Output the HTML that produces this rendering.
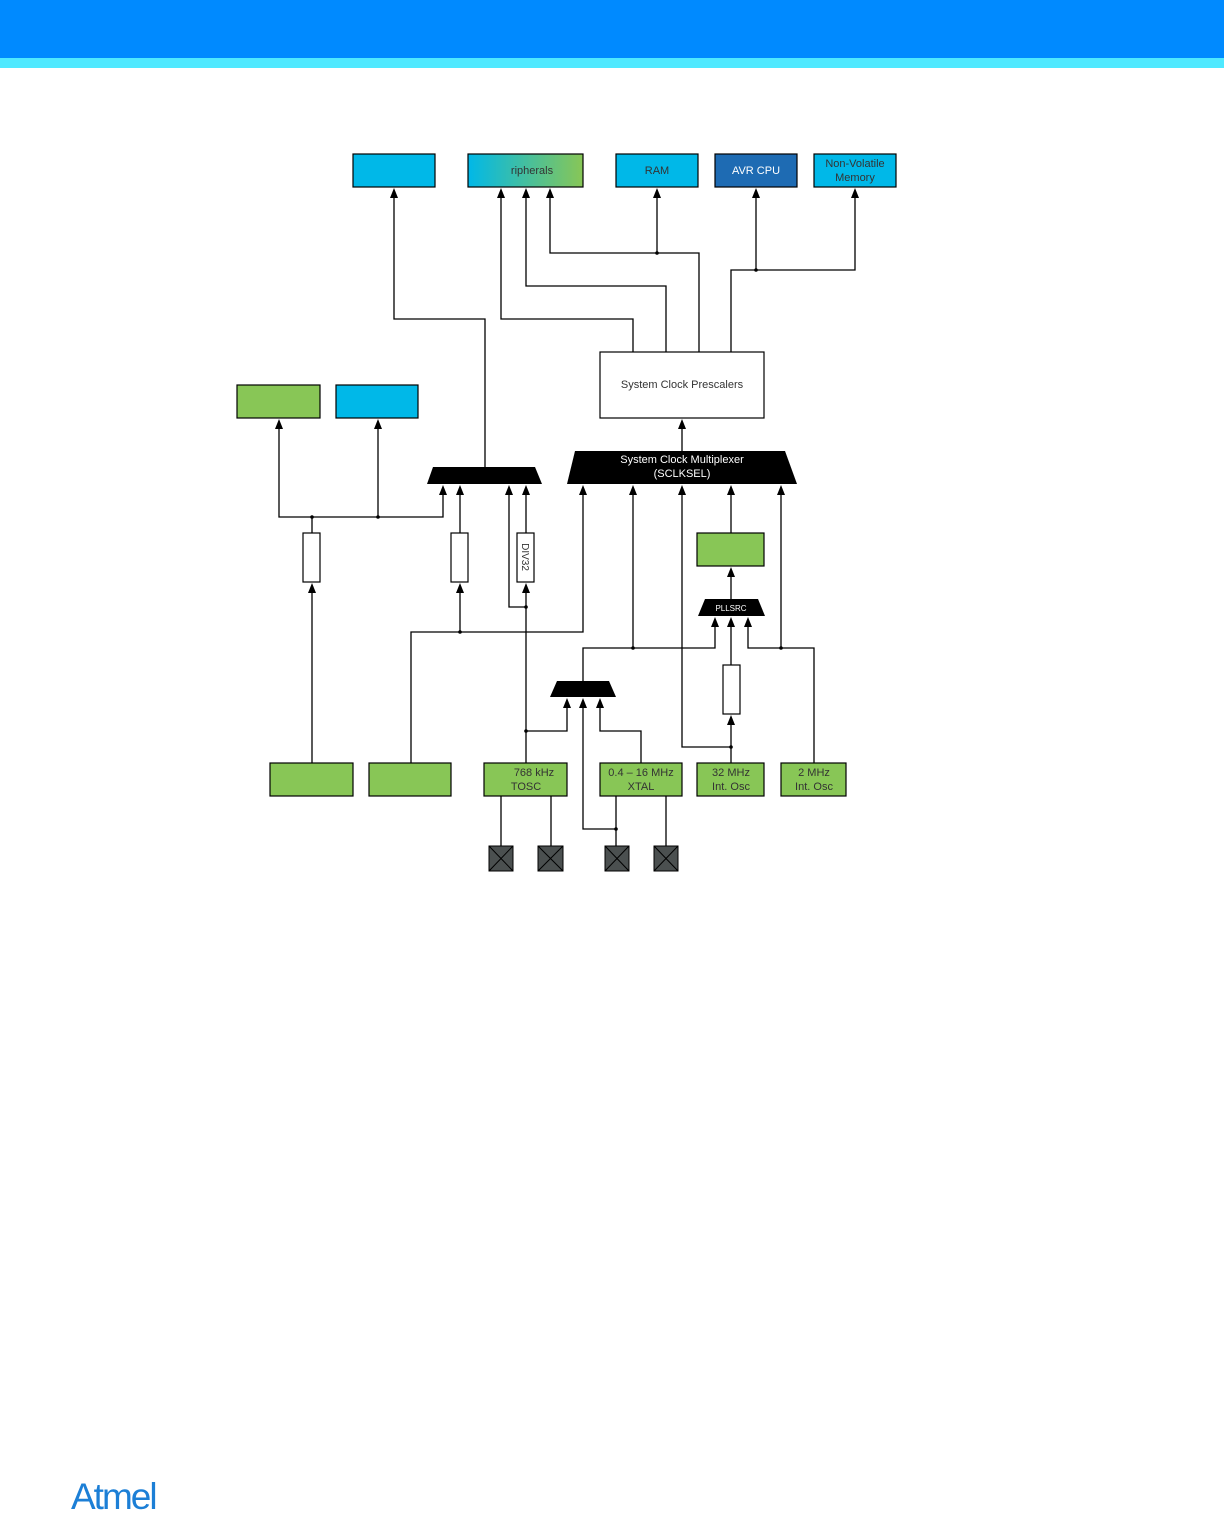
<!DOCTYPE html>
<html><head><meta charset="utf-8"><style>
html,body{margin:0;padding:0;background:#fff;}
body{width:1224px;height:1513px;position:relative;overflow:hidden;font-family:"Liberation Sans",sans-serif;}
.h1{position:absolute;left:0;top:0;width:1224px;height:58px;background:#008aff;}
.h2{position:absolute;left:0;top:58px;width:1224px;height:10px;background:#4fe9ff;}
.logo{position:absolute;left:71px;top:1478px;font-size:37px;line-height:37px;color:#1c7fd6;letter-spacing:-2px;font-family:"Liberation Sans",sans-serif;}
svg{position:absolute;left:0;top:0;}
</style></head><body>
<div class="h1"></div><div class="h2"></div>
<svg width="1224" height="1513" viewBox="0 0 1224 1513" font-family="Liberation Sans, sans-serif">
<defs>
<linearGradient id="g" x1="0" x2="1" y1="0" y2="0"><stop offset="0" stop-color="#00b8e8"/><stop offset="1" stop-color="#88c656"/></linearGradient>
</defs>
<g stroke="#000" stroke-width="1.3" fill="none">
<polyline points="394,197 394,319 485,319 485,467"/>
<polyline points="501,197 501,319 633,319 633,352"/>
<polyline points="526,197 526,286 666,286 666,352"/>
<polyline points="550,197 550,253 699,253 699,352"/>
<line x1="657" y1="197" x2="657" y2="253"/>
<polyline points="855,197 855,270 731,270 731,352"/>
<line x1="756" y1="197" x2="756" y2="270"/>
<line x1="682" y1="428" x2="682" y2="451"/>
<polyline points="279,428 279,517 443,517 443,494"/>
<line x1="378" y1="428" x2="378" y2="517"/>
<line x1="312" y1="517" x2="312" y2="533"/>
<line x1="312" y1="592" x2="312" y2="763"/>
<line x1="460" y1="494" x2="460" y2="533"/>
<line x1="460" y1="592" x2="460" y2="632"/>
<polyline points="411,763 411,632 583,632 583,494"/>
<line x1="526" y1="494" x2="526" y2="533"/>
<polyline points="509,494 509,607 526,607"/>
<line x1="526" y1="592" x2="526" y2="763"/>
<polyline points="526,731 567,731 567,707"/>
<polyline points="583,681 583,648 715,648 715,626"/>
<line x1="633" y1="494" x2="633" y2="648"/>
<polyline points="583,707 583,829 616,829"/>
<polyline points="600,707 600,731 641,731 641,763"/>
<line x1="731" y1="576" x2="731" y2="599"/>
<line x1="731" y1="494" x2="731" y2="533"/>
<polyline points="748,626 748,648 814,648 814,763"/>
<line x1="781" y1="494" x2="781" y2="648"/>
<line x1="731" y1="626" x2="731" y2="665"/>
<line x1="731" y1="724" x2="731" y2="763"/>
<polyline points="682,494 682,747 731,747"/>
<line x1="501" y1="796" x2="501" y2="846"/>
<line x1="551" y1="796" x2="551" y2="846"/>
<line x1="616" y1="796" x2="616" y2="846"/>
<line x1="666" y1="796" x2="666" y2="846"/>
</g>
<g fill="#000">
<path d="M394,188 l-4,10 h8z M501,188 l-4,10 h8z M526,188 l-4,10 h8z M550,188 l-4,10 h8z M657,188 l-4,10 h8z M756,188 l-4,10 h8z M855,188 l-4,10 h8z"/>
<path d="M682,419 l-4,10 h8z M279,419 l-4,10 h8z M378,419 l-4,10 h8z"/>
<path d="M443,485 l-4,10 h8z M460,485 l-4,10 h8z M509,485 l-4,10 h8z M526,485 l-4,10 h8z"/>
<path d="M583,485 l-4,10 h8z M633,485 l-4,10 h8z M682,485 l-4,10 h8z M731,485 l-4,10 h8z M781,485 l-4,10 h8z"/>
<path d="M312,583 l-4,10 h8z M460,583 l-4,10 h8z M526,583 l-4,10 h8z M731,567 l-4,10 h8z"/>
<path d="M715,617 l-4,10 h8z M731,617 l-4,10 h8z M748,617 l-4,10 h8z M731,715 l-4,10 h8z"/>
<path d="M567,698 l-4,10 h8z M583,698 l-4,10 h8z M600,698 l-4,10 h8z"/>
<circle cx="657" cy="253" r="1.8"/><circle cx="756" cy="270" r="1.8"/>
<circle cx="312" cy="517" r="1.8"/><circle cx="378" cy="517" r="1.8"/>
<circle cx="460" cy="632" r="1.8"/><circle cx="526" cy="607" r="1.8"/>
<circle cx="526" cy="731" r="1.8"/><circle cx="633" cy="648" r="1.8"/>
<circle cx="781" cy="648" r="1.8"/><circle cx="731" cy="747" r="1.8"/>
<circle cx="616" cy="829" r="1.8"/>
<polygon points="575,451 785,451 797,484 567,484"/>
<polygon points="433,467 535,467 542,484 427,484"/>
<polygon points="557,681 609,681 616,697 550,697"/>
<polygon points="705,599 758,599 765,616 698,616"/>
</g>
<g fill="#fff" font-size="11" text-anchor="middle">
<text x="682" y="463">System Clock Multiplexer</text>
<text x="682" y="477">(SCLKSEL)</text>
<text x="731" y="611" font-size="8">PLLSRC</text>
</g>
<g stroke="#000" stroke-width="1.2">
<rect x="353" y="154" width="82" height="33" fill="#00b8e8"/>
<rect x="468" y="154" width="115" height="33" fill="url(#g)"/>
<rect x="616" y="154" width="82" height="33" fill="#00b8e8"/>
<rect x="715" y="154" width="82" height="33" fill="#1e6bb3"/>
<rect x="814" y="154" width="82" height="33" fill="#00b8e8"/>
<rect x="600" y="352" width="164" height="66" fill="#fff"/>
<rect x="237" y="385" width="83" height="33" fill="#88c656"/>
<rect x="336" y="385" width="82" height="33" fill="#00b8e8"/>
<rect x="303" y="533" width="17" height="49" fill="#fff"/>
<rect x="451" y="533" width="17" height="49" fill="#fff"/>
<rect x="517" y="533" width="17" height="49" fill="#fff"/>
<rect x="697" y="533" width="67" height="33" fill="#88c656"/>
<rect x="723" y="665" width="17" height="49" fill="#fff"/>
<rect x="270" y="763" width="83" height="33" fill="#88c656"/>
<rect x="369" y="763" width="82" height="33" fill="#88c656"/>
<rect x="484" y="763" width="83" height="33" fill="#88c656"/>
<rect x="600" y="763" width="82" height="33" fill="#88c656"/>
<rect x="697" y="763" width="67" height="33" fill="#88c656"/>
<rect x="781" y="763" width="65" height="33" fill="#88c656"/>
</g>
<g stroke="#000" stroke-width="1" fill="#4b5050">
<rect x="489" y="846" width="24" height="25"/><path d="M489,846 L513,871 M513,846 L489,871" fill="none"/>
<rect x="538" y="846" width="25" height="25"/><path d="M538,846 L563,871 M563,846 L538,871" fill="none"/>
<rect x="605" y="846" width="24" height="25"/><path d="M605,846 L629,871 M629,846 L605,871" fill="none"/>
<rect x="654" y="846" width="24" height="25"/><path d="M654,846 L678,871 M678,846 L654,871" fill="none"/>
</g>
<g font-size="11" text-anchor="middle" fill="#333">
<text x="532" y="174">ripherals</text>
<text x="657" y="174">RAM</text>
<text x="756" y="174" fill="#fff">AVR CPU</text>
<text x="855" y="167">Non-Volatile</text>
<text x="855" y="181">Memory</text>
<text x="682" y="388">System Clock Prescalers</text>
<text x="534" y="776">768 kHz</text><text x="526" y="790">TOSC</text>
<text x="641" y="776">0.4 – 16 MHz</text><text x="641" y="790">XTAL</text>
<text x="731" y="776">32 MHz</text><text x="731" y="790">Int. Osc</text>
<text x="814" y="776">2 MHz</text><text x="814" y="790">Int. Osc</text>
<text transform="translate(522,557) rotate(90)" font-size="10">DIV32</text>
</g>
</svg>
<div class="logo">Atmel</div>
</body></html>
